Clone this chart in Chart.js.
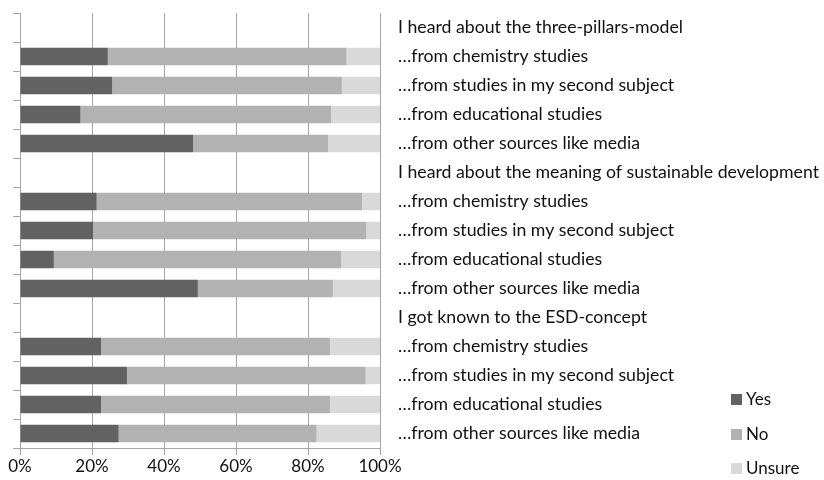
<!DOCTYPE html>
<html>
<head>
<meta charset="utf-8">
<script src="https://cdn.jsdelivr.net/npm/chart.js@4"></script>
<style>
html,body{margin:0;padding:0;background:#fff;}
#wrap{width:824px;height:480px;}
</style>
</head>
<body>
<div id="wrap"><canvas id="c" width="824" height="480"></canvas></div>
<script>
const categories = [
  "I heard about the three-pillars-model",
  "…from chemistry studies",
  "…from studies in my second subject",
  "…from educational studies",
  "…from other sources like media",
  "I heard about the meaning of sustainable development",
  "…from chemistry studies",
  "…from studies in my second subject",
  "…from educational studies",
  "…from other sources like media",
  "I got known to the ESD-concept",
  "…from chemistry studies",
  "…from studies in my second subject",
  "…from educational studies",
  "…from other sources like media"
];
const seriesNames = ["Yes", "No", "Unsure"];
const yesValues    = [null, 24.4, 25.6, 16.8, 48.1, null, 21.3, 20.3, 9.4, 49.4, null, 22.5, 29.7, 22.5, 27.4];
const noValues     = [null, 66.3, 63.8, 69.6, 37.5, null, 73.7, 75.9, 79.8, 37.5, null, 63.6, 66.3, 63.6, 55.0];
const unsureValues = [null, 9.3, 10.6, 13.6, 14.4, null, 5.0, 3.8, 10.8, 13.1, null, 13.9, 4.0, 13.9, 17.6];
const xTicks = [0, 20, 40, 60, 80, 100];

const FONT = "Lato";
const colors = ["#626262", "#b2b2b2", "#d9d9d9"];

const legendPlugin = {
  id: "sideLegend",
  afterDraw(chart) {
    const ctx = chart.ctx;
    const ys = [399, 434, 468];
    ctx.save();
    ctx.font = "17px " + FONT;
    ctx.textBaseline = "middle";
    ctx.textAlign = "left";
    chart.data.datasets.forEach((ds, i) => {
      ctx.fillStyle = ds.backgroundColor;
      ctx.fillRect(731, ys[i] - 5, 11, 11);
      ctx.fillStyle = "#111";
      ctx.fillText(ds.label, 746, ys[i] + 1);
    });
    ctx.restore();
  }
};

new Chart(document.getElementById("c"), {
  type: "bar",
  data: {
    labels: categories,
    datasets: [
      { label: seriesNames[0], data: yesValues, backgroundColor: colors[0] },
      { label: seriesNames[1], data: noValues, backgroundColor: colors[1] },
      { label: seriesNames[2], data: unsureValues, backgroundColor: colors[2] }
    ]
  },
  options: {
    indexAxis: "y",
    responsive: false,
    animation: false,
    events: [],
    layout: { padding: { top: 13, left: 0, right: 0, bottom: 0 } },
    datasets: { bar: { barPercentage: 0.6, categoryPercentage: 1.0, borderWidth: 0 } },
    plugins: { legend: { display: false }, tooltip: { enabled: false } },
    scales: {
      x: {
        stacked: true,
        min: 0, max: 100,
        afterBuildTicks(scale) { scale.ticks = xTicks.map(v => ({ value: v })); },
        afterFit(scale) { scale.height = 32; scale.paddingLeft = 0; scale.paddingRight = 0; },
        grid: { color: "#a6a6a6", lineWidth: 1, tickLength: 7, drawTicks: true },
        border: { color: "#a6a6a6" },
        ticks: {
          padding: 1,
          color: "#111",
          font: { family: FONT, size: 17 },
          callback: v => v + "%",
          maxRotation: 0
        }
      },
      y: {
        stacked: true,
        position: "left",
        offset: true,
        afterFit(scale) { scale.width = 20; scale.paddingTop = 0; scale.paddingBottom = 0; },
        grid: { offset: true, drawOnChartArea: false, tickLength: 7, color: "#a6a6a6" },
        border: { color: "#a6a6a6" },
        ticks: { display: false }
      },
      y2: {
        type: "category",
        labels: categories,
        position: "right",
        offset: true,
        afterFit(scale) { scale.width = 444; scale.paddingTop = 0; scale.paddingBottom = 0; },
        grid: { display: false, drawTicks: false },
        border: { display: false },
        ticks: {
          padding: 18,
          color: "#111",
          crossAlign: "near",
          font: { family: FONT, size: 17.7 },
          autoSkip: false
        }
      }
    }
  },
  plugins: [legendPlugin]
});
</script>
</body>
</html>
